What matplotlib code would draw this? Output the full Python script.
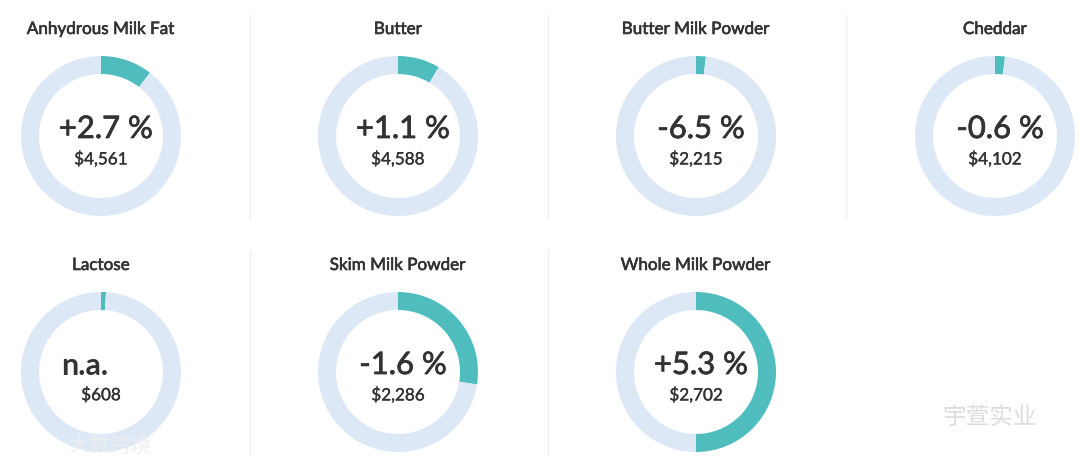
import matplotlib
matplotlib.use('Agg')
import matplotlib.pyplot as plt
import matplotlib.patheffects as pe

plt.rcParams['font.family'] = ['Lato', 'Noto Sans CJK SC', 'DejaVu Sans']

# 数据
products = ['Anhydrous Milk Fat', 'Butter', 'Butter Milk Powder', 'Cheddar',
            'Lactose', 'Skim Milk Powder', 'Whole Milk Powder']
changes = ['+2.7 %', '+1.1 %', '-6.5 %', '-0.6 %', 'n.a.', '-1.6 %', '+5.3 %']
prices = ['$4,561', '$4,588', '$2,215', '$4,102', '$608', '$2,286', '$2,702']
ring_share = [0.105, 0.085, 0.02, 0.02, 0.01, 0.275, 0.5]

W, H = 1080, 467
teal = '#4fbdbd'
track = '#dce8f5'
ink = '#333333'

fig = plt.figure(figsize=(W / 100, H / 100), dpi=100)
bg = fig.add_axes([0, 0, 1, 1])
bg.set_xlim(0, W)
bg.set_ylim(H, 0)
bg.axis('off')

col_x = [101, 398, 696, 995]
row_y = [136, 372]
radius = 80

# 分隔线
for x in [250, 548, 846]:
    bg.plot([x, x], [15, 218], color='#eeeeee', lw=1)
for x in [250, 548]:
    bg.plot([x, x], [250, 455], color='#eeeeee', lw=1)


def thick(w):
    # 加一点描边，模拟中等字重
    return [pe.withStroke(linewidth=w, foreground=ink)]


for i, name in enumerate(products):
    cx = col_x[i % 4]
    cy = row_y[i // 4]
    ax = fig.add_axes([(cx - radius) / W, 1 - (cy + radius) / H,
                       2 * radius / W, 2 * radius / H])
    share = ring_share[i]
    ax.pie([share, 1 - share], colors=[teal, track], startangle=90,
           counterclock=False, radius=1.0,
           wedgeprops=dict(width=0.225, edgecolor='none'))
    ax.set_xlim(-1, 1)
    ax.set_ylim(-1, 1)
    ax.set_aspect('equal')
    ax.axis('off')

    fig.text(cx / W, 1 - (cy - 107) / H, name, ha='center', va='center',
             fontsize=12.3, color=ink, path_effects=thick(0.45))
    if changes[i] == 'n.a.':
        fig.text((cx - 16) / W, 1 - (cy - 6) / H, changes[i], ha='center',
                 va='center', fontsize=22, fontweight='bold', color=ink)
    else:
        fig.text((cx + 5) / W, 1 - (cy - 7) / H, changes[i], ha='center',
                 va='center', fontsize=22.3, color=ink,
                 path_effects=thick(0.55))
    fig.text(cx / W, 1 - (cy + 23) / H, prices[i], ha='center', va='center',
             fontsize=12.3, color=ink, path_effects=thick(0.25))

# 水印
cjk = ['Noto Sans CJK SC', 'DejaVu Sans']
fig.text(990 / W, 1 - 418 / H, '宇萱实业', ha='center', va='center',
         fontsize=17, color='#dddddd', family=cjk)
fig.text(110 / W, 1 - 447 / H, '大数跨境', ha='center', va='center',
         fontsize=15, color='#eeeeee', family=cjk, alpha=0.9)

fig.savefig('out.png', dpi=100)
